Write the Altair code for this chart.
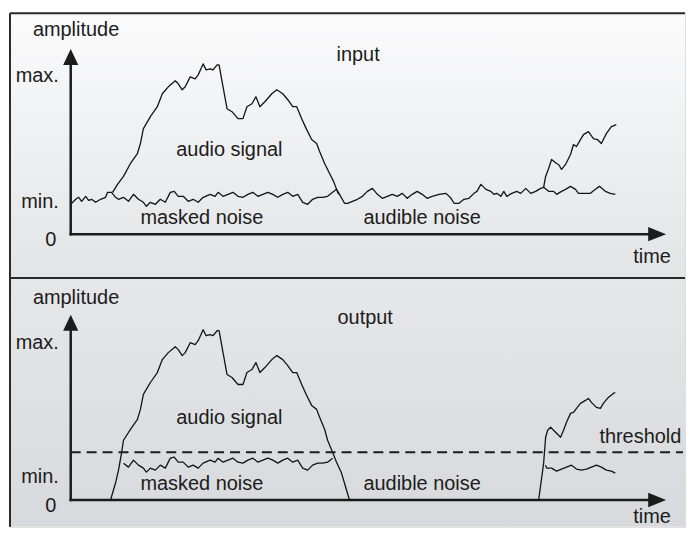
import altair as alt
import pandas as pd

# ---------------- data (time units, amplitude units) ----------------
# input panel: audio signal, first burst
sig1_t = [42, 47, 53, 60, 67, 70, 73, 80, 87, 92, 98, 105, 108, 112, 115, 120, 125, 128, 133, 136,
          140, 143, 147, 149, 153, 157, 162, 168, 173, 177, 182, 186, 190, 195, 202, 207, 213, 218, 223, 227,
          232, 237, 242, 247, 250, 255, 260, 264, 267, 269]
sig1_a = [42, 50, 58, 71, 81, 91, 106, 118, 128, 141, 148, 154, 151, 145, 148, 158, 156, 160, 171, 165,
          166, 165, 170, 170, 148, 126, 123, 116, 116, 128, 131, 138, 128, 133, 141, 145, 141, 135, 128, 128,
          116, 105, 95, 91, 83, 71, 61, 53, 45, 40]

# input panel: audio signal, second burst
sig2_t = [475, 477, 480, 483, 488, 490, 493, 497, 502, 505, 508, 512, 515, 520, 525, 529, 533, 538, 543, 548]
sig2_a = [47, 58, 66, 75, 71, 70, 65, 70, 80, 90, 88, 95, 100, 103, 96, 95, 91, 101, 108, 110]

# input panel: noise floor
noise_t = [1, 5, 8, 11, 15, 18, 21, 25, 30, 35, 37, 41, 45, 48, 53, 58, 63, 68, 73, 76,
           80, 85, 90, 95, 100, 104, 108, 113, 118, 123, 128, 133, 140, 145, 148, 153, 158, 163, 168, 173,
           178, 183, 188, 193, 198, 203, 208, 213, 218, 223, 228, 233, 238, 243, 248, 253, 258, 263, 267, 270,
           275, 278, 283, 288, 293, 298, 303, 308, 313, 318, 323, 328, 333, 338, 343, 348, 353, 358, 363, 370,
           377, 382, 385, 390, 395, 400, 405, 408, 412, 417, 422, 425, 428, 432, 435, 438, 443, 448, 452, 457,
           462, 467, 472, 475, 480, 485, 488, 493, 497, 502, 507, 510, 517, 522, 527, 531, 537, 542, 547]
noise_a = [31, 35, 37, 33, 38, 34, 35, 32, 35, 37, 42, 42, 37, 35, 37, 33, 40, 35, 32, 28,
           32, 30, 35, 32, 42, 43, 38, 38, 33, 35, 32, 37, 40, 38, 42, 38, 40, 42, 38, 37,
           40, 42, 38, 40, 42, 40, 37, 40, 42, 38, 40, 32, 30, 35, 37, 37, 38, 42, 45, 40,
           31, 31, 33, 35, 38, 43, 46, 40, 36, 38, 40, 38, 41, 36, 40, 43, 40, 36, 38, 40,
           41, 36, 31, 31, 35, 36, 41, 43, 50, 45, 43, 40, 41, 38, 43, 38, 41, 43, 41, 46,
           41, 43, 46, 47, 43, 43, 40, 43, 45, 48, 45, 41, 41, 41, 45, 48, 43, 41, 40]

# output panel: gated signal (ramp in, burst, ramp out, silence, ramp in, burst)
out_in1_t = [40, 45, 48, 51, 53]
out_in1_a = [0, 17, 30, 47, 60]
out_out1_t = [258, 263, 267, 272, 277, 280, 470]
out_out1_a = [60, 48, 38, 27, 10, 0, 0]
out_sig2_t = [475, 477, 479, 482, 485, 488, 492, 495, 498, 502, 505, 508, 512, 517, 520, 523, 528, 532, 535,
              540, 545, 547]
out_sig2_a = [37, 63, 70, 73, 70, 67, 63, 70, 78, 87, 88, 92, 97, 100, 102, 98, 93, 92, 97,
              103, 107, 108]
out_noise2_t = [477, 478, 483, 488, 493, 498, 503, 508, 513, 518, 523, 528, 533, 538, 543, 547]
out_noise2_a = [35, 32, 32, 29, 31, 33, 35, 31, 30, 31, 33, 35, 33, 30, 29, 27]

threshold_level = 48
threshold_end = 615
time_axis_end = 598
amp_axis_end = 186

top_labels_left = ["amplitude", "input", "audio signal", "masked noise", "audible noise", "time"]
top_labels_left_t = [-38, 267, 106, 70, 294, 565]
top_labels_left_a = [199, 174, 79, 10, 10, -29]
bot_labels_left = ["amplitude", "output", "audio signal", "masked noise", "audible noise", "threshold", "time"]
bot_labels_left_t = [-38, 268, 106, 70, 294, 531, 565]
bot_labels_left_a = [197, 177, 76, 10, 10, 57, -23]
top_labels_right = ["max.", "min."]
top_labels_right_t = [-12, -12]
top_labels_right_a = [153, 26]
bot_labels_right = ["max.", "min."]
bot_labels_right_t = [-12, -12]
bot_labels_right_a = [152, 17]
zero_label = ["0"]
zero_label_t = [-20]
zero_label_a = [-12]

# ---------------- tables ----------------
def series(name, ts, as_):
    return pd.DataFrame({"t": ts, "a": as_, "series": name, "i": range(len(ts))})

top_curves = pd.concat([
    series("signal1", sig1_t, sig1_a),
    series("signal2", sig2_t, sig2_a),
    series("noise", noise_t, noise_a),
])

mid = [(t, a) for t, a in zip(sig1_t, sig1_a) if 60 <= t <= 255]
out_sig_t = out_in1_t + [p[0] for p in mid] + out_out1_t + out_sig2_t
out_sig_a = out_in1_a + [p[1] for p in mid] + out_out1_a + out_sig2_a
nmid = [(t, a) for t, a in zip(noise_t, noise_a) if 52 <= t <= 265]
bot_curves = pd.concat([
    series("signal", out_sig_t, out_sig_a),
    series("noise1", [p[0] for p in nmid], [p[1] for p in nmid]),
    series("noise2", out_noise2_t, out_noise2_a),
])

axes_df = pd.DataFrame({"t": [0, 0], "a": [0, 0], "t2": [0, time_axis_end - 8], "a2": [amp_axis_end - 8, 0]})
yarrow_df = pd.DataFrame({"t": [0], "a": [amp_axis_end]})
xarrow_df = pd.DataFrame({"t": [time_axis_end], "a": [0]})
thr_df = pd.DataFrame({"t": [0], "t2": [threshold_end], "a": [threshold_level]})
one_df = pd.DataFrame({"k": [0]})

PANEL_W = 678
TOP_H = 266
BOT_H = 250
XS = alt.Scale(domain=[-61, -61 + PANEL_W], nice=False, zero=False)
YS_TOP = alt.Scale(domain=[222 - TOP_H, 222], nice=False, zero=False)
YS_BOT = alt.Scale(domain=[223 - BOT_H, 223], nice=False, zero=False)
FONT = "Liberation Sans"
INK = "#1c1c1c"
BORDER = "#2a2a2a"


def X(f="t"):
    return alt.X(f"{f}:Q", scale=XS, axis=None)


def panel(curves, grad, left, right, ys, height, extra=None):
    def Y(f="a"):
        return alt.Y(f"{f}:Q", scale=ys, axis=None)

    def texts(labels, ts, as_, align):
        df = pd.DataFrame({"label": labels, "t": ts, "a": as_})
        return alt.Chart(df).mark_text(font=FONT, fontSize=20, align=align, baseline="alphabetic",
                                       color=INK).encode(x=X(), y=Y(), text="label:N")

    bg = alt.Chart(one_df).mark_rect(fill=grad).encode(
        x=alt.value(0), x2=alt.value("width"), y=alt.value(0), y2=alt.value("height"))
    border_top = alt.Chart(one_df).mark_rule(color=BORDER, strokeWidth=2).encode(
        x=alt.value(0), x2=alt.value("width"), y=alt.value(0))
    border_left = alt.Chart(one_df).mark_rule(color=BORDER, strokeWidth=2).encode(
        x=alt.value(0), y=alt.value(0), y2=alt.value("height"))
    ax = alt.Chart(axes_df).mark_rule(color=INK, strokeWidth=2.5, strokeCap="square").encode(
        x=X(), y=Y(), x2="t2:Q", y2="a2:Q")
    ya = alt.Chart(yarrow_df).mark_point(shape="M0,0L-1.9,4L1.9,4Z", size=64, filled=True,
                                         opacity=1, color=INK).encode(x=X(), y=Y())
    xa = alt.Chart(xarrow_df).mark_point(shape="M0,0L-4.5,-1.8L-4.5,1.8Z", size=64, filled=True,
                                         opacity=1, color=INK).encode(x=X(), y=Y())
    lines = alt.Chart(curves).mark_line(color="#141414", strokeWidth=1.3, strokeJoin="round").encode(
        x=X(), y=Y(), detail="series:N", order="i:Q")
    layers = [bg, border_top, border_left, ax, ya, xa, lines]
    if extra is not None:
        layers.append(extra(Y))
    layers += [texts(*left, "left"), texts(*right, "right"),
               texts(zero_label, zero_label_t, zero_label_a, "center")]
    return alt.layer(*layers).properties(width=PANEL_W, height=height)


grad_top = {"gradient": "linear", "x1": 0, "y1": 0, "x2": 0, "y2": 1,
            "stops": [{"offset": 0, "color": "#fbfbfc"}, {"offset": 1, "color": "#e2e4e6"}]}
grad_bot = {"gradient": "linear", "x1": 0, "y1": 0, "x2": 0, "y2": 1,
            "stops": [{"offset": 0, "color": "#e6e7e9"}, {"offset": 1, "color": "#d7d9dc"}]}


def thr(Y):
    return alt.Chart(thr_df).mark_rule(color=INK, strokeWidth=2, strokeDash=[10, 6]).encode(
        x=X(), x2="t2:Q", y=Y())


top = panel(top_curves, grad_top,
            (top_labels_left, top_labels_left_t, top_labels_left_a),
            (top_labels_right, top_labels_right_t, top_labels_right_a), YS_TOP, TOP_H)
bot = panel(bot_curves, grad_bot,
            (bot_labels_left, bot_labels_left_t, bot_labels_left_a),
            (bot_labels_right, bot_labels_right_t, bot_labels_right_a), YS_BOT, BOT_H, extra=thr)

chart = alt.vconcat(top, bot, spacing=0, bounds="flush").properties(
    padding={"left": 0, "top": 2, "right": 0, "bottom": 0},
).resolve_scale(y="independent").configure_view(stroke=None).configure(background="white")

chart.save("out.html", embed_options={"renderer": "svg", "actions": False})
